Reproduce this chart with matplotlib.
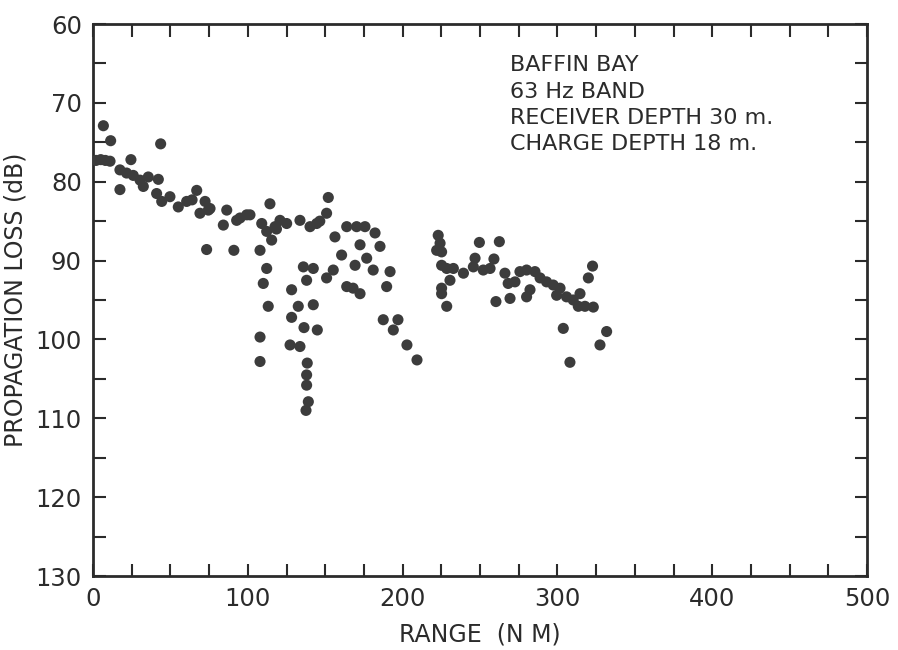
import matplotlib
matplotlib.use("Agg")
import matplotlib.pyplot as plt
from matplotlib.ticker import MultipleLocator

# Data (range in nautical miles, propagation loss in dB)
range_nm = [
    2, 5, 8, 11, 6.7, 11.4, 24.5, 43.7, 17.4, 17.4,
    21.7, 26, 30.4, 35.7, 42.2, 32.5, 41.1, 44.4, 49.7, 55.1,
    60.5, 67, 72.4, 69.1, 75.6, 84.2, 86.4, 92.8, 99.3, 73.4,
    91, 74.5, 95, 101.4, 114.3, 109, 112.2, 115.4, 120.8, 125.1,
    117.6, 133.7, 140.2, 144.5, 150.9, 152, 163.9, 170.3, 175.7, 182.2,
    185.4, 156.3, 172.5, 176.8, 160.6, 169.3, 181, 191.9, 189.7, 150.9,
    155.2, 163.9, 172.5, 168, 135.9, 142.3, 138, 107.9, 112.2, 110,
    113.2, 128.3, 132.6, 142.3, 128.3, 136.3, 144.9, 107.9, 107.9, 127.3,
    133.7, 138.4, 138, 138, 139.1, 137.6, 187.5, 194, 197, 202.8,
    209.3, 223, 224.2, 222, 225.2, 225.2, 228.5, 232.8, 239.3, 230.6,
    225.2, 225.2, 228.5, 249.6, 262.5, 246.8, 245.7, 252.1, 259, 256.5,
    266.1, 268.2, 272.6, 275.8, 280.1, 285.5, 288.8, 293, 297.3, 301.7,
    299.5, 305.9, 310.2, 314.6, 313.5, 317.8, 323.2, 282.3, 280.1, 269.4,
    260.3, 320, 322.7, 303.8, 308.1, 331.8, 327.5, 146.5, 118.5, 64,
]
loss_db = [
    77.3, 77.2, 77.3, 77.4, 72.9, 74.8, 77.2, 75.2, 78.5, 81.0,
    78.9, 79.2, 79.8, 79.4, 79.7, 80.6, 81.5, 82.5, 81.9, 83.2,
    82.5, 81.1, 82.5, 84.0, 83.4, 85.5, 83.6, 84.9, 84.2, 88.6,
    88.7, 83.6, 84.6, 84.2, 82.8, 85.3, 86.3, 87.4, 84.9, 85.3,
    85.7, 84.9, 85.7, 85.3, 84.0, 82.0, 85.7, 85.7, 85.7, 86.5,
    88.2, 87.0, 88.0, 89.7, 89.3, 90.6, 91.2, 91.4, 93.3, 92.2,
    91.2, 93.3, 94.2, 93.5, 90.8, 91.0, 92.5, 88.7, 91.0, 92.9,
    95.8, 93.7, 95.8, 95.6, 97.2, 98.5, 98.8, 99.7, 102.8, 100.7,
    100.9, 103.0, 104.5, 105.8, 107.9, 109.0, 97.5, 98.8, 97.5, 100.7,
    102.6, 86.8, 87.8, 88.7, 88.9, 90.6, 91.0, 91.0, 91.6, 92.5,
    93.5, 94.2, 95.8, 87.7, 87.6, 89.7, 90.8, 91.2, 89.8, 91.0,
    91.6, 92.9, 92.7, 91.4, 91.2, 91.4, 92.2, 92.7, 93.1, 93.5,
    94.4, 94.6, 95.0, 94.2, 95.8, 95.8, 95.9, 93.7, 94.6, 94.8,
    95.2, 92.2, 90.7, 98.6, 102.9, 99.0, 100.7, 85.0, 86.0, 82.3,
]

x_major = [0, 100, 200, 300, 400, 500]
y_major = [60, 70, 80, 90, 100, 110, 120, 130]
note_lines = ["BAFFIN BAY", "63 Hz BAND", "RECEIVER DEPTH 30 m.", "CHARGE DEPTH 18 m."]

ink = "#2b2b2b"
fig = plt.figure(figsize=(8.98, 6.50), dpi=100)
ax = fig.add_axes([93 / 898, 1 - 576 / 650, (867 - 93) / 898, (576 - 24) / 650])

ax.scatter(range_nm, loss_db, s=64, color="#3c3c3c", edgecolors="none", zorder=3)

ax.set_xlim(0, 500)
ax.set_ylim(130, 60)
ax.set_xticks(x_major)
ax.set_yticks(y_major)
ax.xaxis.set_minor_locator(MultipleLocator(25))
ax.yaxis.set_minor_locator(MultipleLocator(5))
ax.tick_params(which="both", direction="in", top=True, right=True,
               length=9, width=1.5, color=ink)
ax.tick_params(which="major", labelsize=17.5, labelcolor=ink, pad=8)
for sp in ax.spines.values():
    sp.set_linewidth(2)
    sp.set_color(ink)

ax.set_xlabel("RANGE  (N M)", fontsize=17, color=ink, labelpad=8)
ax.set_ylabel("PROPAGATION LOSS (dB)", fontsize=17, color=ink, labelpad=6)

# annotation block, placed in pixel coordinates (origin top-left)
for i, line in enumerate(note_lines):
    fig.text(510 / 898, 1 - (65 + i * 26.5) / 650, line, fontsize=16, color=ink,
             va="center", ha="left")

fig.savefig("out.png", dpi=100)
